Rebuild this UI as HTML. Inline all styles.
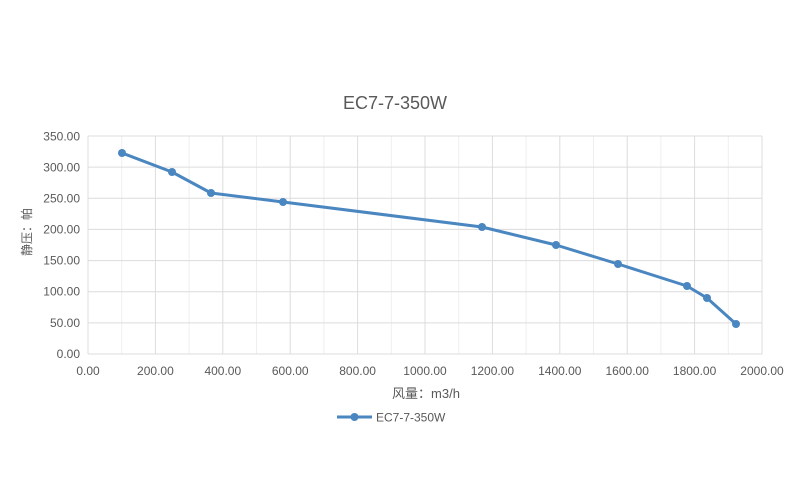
<!DOCTYPE html>
<html><head><meta charset="utf-8"><style>
html,body{margin:0;padding:0;background:#fff;}
svg{display:block;}
text{font-family:"Liberation Sans","Noto Sans CJK SC",sans-serif;fill:#595959;}
</style></head><body>
<svg width="800" height="500" viewBox="0 0 800 500" xmlns="http://www.w3.org/2000/svg">
<rect width="800" height="500" fill="#fff"/>
<text x="395" y="109" font-size="18" text-anchor="middle">EC7-7-350W</text>
<g stroke="#eeeeee" stroke-width="1">
<line x1="121.7" y1="136" x2="121.7" y2="354"/>
<line x1="189.1" y1="136" x2="189.1" y2="354"/>
<line x1="256.5" y1="136" x2="256.5" y2="354"/>
<line x1="323.9" y1="136" x2="323.9" y2="354"/>
<line x1="391.3" y1="136" x2="391.3" y2="354"/>
<line x1="458.7" y1="136" x2="458.7" y2="354"/>
<line x1="526.1" y1="136" x2="526.1" y2="354"/>
<line x1="593.5" y1="136" x2="593.5" y2="354"/>
<line x1="660.9" y1="136" x2="660.9" y2="354"/>
<line x1="728.3" y1="136" x2="728.3" y2="354"/>
</g>
<g stroke="#dcdcdc" stroke-width="1">
<line x1="88" y1="136" x2="762" y2="136"/>
<line x1="88" y1="167.1" x2="762" y2="167.1"/>
<line x1="88" y1="198.3" x2="762" y2="198.3"/>
<line x1="88" y1="229.4" x2="762" y2="229.4"/>
<line x1="88" y1="260.6" x2="762" y2="260.6"/>
<line x1="88" y1="291.7" x2="762" y2="291.7"/>
<line x1="88" y1="322.9" x2="762" y2="322.9"/>
<line x1="88" y1="354" x2="762" y2="354"/>
<line x1="88" y1="136" x2="88" y2="354"/>
<line x1="155.4" y1="136" x2="155.4" y2="354"/>
<line x1="222.8" y1="136" x2="222.8" y2="354"/>
<line x1="290.2" y1="136" x2="290.2" y2="354"/>
<line x1="357.6" y1="136" x2="357.6" y2="354"/>
<line x1="425" y1="136" x2="425" y2="354"/>
<line x1="492.4" y1="136" x2="492.4" y2="354"/>
<line x1="559.8" y1="136" x2="559.8" y2="354"/>
<line x1="627.2" y1="136" x2="627.2" y2="354"/>
<line x1="694.6" y1="136" x2="694.6" y2="354"/>
<line x1="762" y1="136" x2="762" y2="354"/>
</g>
<g font-size="12" text-anchor="end">
<text x="80" y="140.5">350.00</text>
<text x="80" y="171.5">300.00</text>
<text x="80" y="202.5">250.00</text>
<text x="80" y="233.5">200.00</text>
<text x="80" y="264.5">150.00</text>
<text x="80" y="295.5">100.00</text>
<text x="80" y="327">50.00</text>
<text x="80" y="358">0.00</text>
</g>
<g font-size="12" text-anchor="middle">
<text x="88" y="375">0.00</text>
<text x="155.4" y="375">200.00</text>
<text x="222.8" y="375">400.00</text>
<text x="290.2" y="375">600.00</text>
<text x="357.6" y="375">800.00</text>
<text x="425" y="375">1000.00</text>
<text x="492.4" y="375">1200.00</text>
<text x="559.8" y="375">1400.00</text>
<text x="627.2" y="375">1600.00</text>
<text x="694.6" y="375">1800.00</text>
<text x="762" y="375">2000.00</text>
</g>
<text x="426" y="398" font-size="13" text-anchor="middle">风量：m3/h</text>
<text transform="translate(31,232) rotate(-90)" font-size="12" text-anchor="middle">静压：帕</text>
<polyline fill="none" stroke="#4a86c0" stroke-width="3" stroke-linejoin="round" points="122,153 172,172 211,193 283,202 482,227 556,245 618,264 687,286 707,298 736,324"/>
<g fill="#4a86c0">
<circle cx="122" cy="153" r="4"/>
<circle cx="172" cy="172" r="4"/>
<circle cx="211" cy="193" r="4"/>
<circle cx="283" cy="202" r="4"/>
<circle cx="482" cy="227" r="4"/>
<circle cx="556" cy="245" r="4"/>
<circle cx="618" cy="264" r="4"/>
<circle cx="687" cy="286" r="4"/>
<circle cx="707" cy="298" r="4"/>
<circle cx="736" cy="324" r="4"/>
</g>
<line x1="337" y1="417" x2="372" y2="417" stroke="#4a86c0" stroke-width="3"/>
<circle cx="354.5" cy="417" r="4" fill="#4a86c0"/>
<text x="376" y="421.5" font-size="12">EC7-7-350W</text>
</svg>
</body></html>
